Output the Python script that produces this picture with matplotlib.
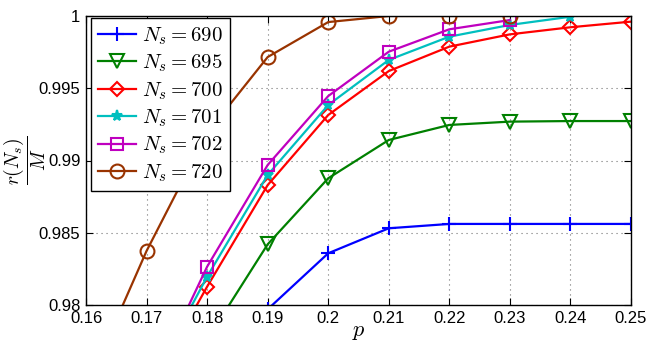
import numpy as np
import matplotlib
matplotlib.use('Agg')
import matplotlib.pyplot as plt

# ── Data ───────────────────────────────────────────────────────────────────────
p = [0.16, 0.17, 0.18, 0.19, 0.20, 0.21, 0.22, 0.23, 0.24, 0.25]

labels = [r'$N_s = 690$', r'$N_s = 695$', r'$N_s = 700$',
          r'$N_s = 701$', r'$N_s = 702$', r'$N_s = 720$']

r_690 = [0.9797, 0.98358, 0.98531, 0.98561, 0.98561, 0.98561, 0.98561]          # p = 0.19 .. 0.25
r_695 = [0.9776, 0.9842, 0.98877, 0.99142, 0.99246, 0.99269, 0.99273, 0.99273]  # p = 0.18 .. 0.25
r_700 = [0.9738, 0.98127, 0.98830, 0.99315, 0.99619, 0.99788, 0.99873, 0.99922, 0.99961]  # 0.17 ..
r_701 = [0.9741, 0.98196, 0.98900, 0.99384, 0.99696, 0.99857, 0.99938, 0.99995]            # 0.17 .. 0.24
r_702 = [0.9738, 0.98265, 0.98969, 0.99446, 0.99753, 0.99908, 0.99972]                     # 0.17 .. 0.23
r_720 = [0.9742, 0.98374, 0.9919, 0.99716, 0.99958, 1.0, 1.0, 1.0]                         # 0.16 .. 0.23

# (x, y, colour, marker, marker size)
series = [
    (p[3:], r_690, 'b', '+', 10),
    (p[2:], r_695, 'g', 'v', 10),
    (p[1:], r_700, 'r', 'D', 7.5),
    (p[1:9], r_701, 'c', '*', 8),
    (p[1:8], r_702, 'm', 's', 9),
    (p[0:8], r_720, (0.6, 0.2, 0.0), 'o', 10),
]

# ── Plot ───────────────────────────────────────────────────────────────────────
plt.rcParams['mathtext.fontset'] = 'cm'
plt.rcParams['font.family'] = ['Liberation Sans', 'DejaVu Sans']

fig = plt.figure(figsize=(6.47, 3.43), dpi=100)
ax = fig.add_axes([86 / 647, 1 - 305 / 343, 545 / 647, 289 / 343])

for (x, y, c, m, ms), lab in zip(series, labels):
    ax.plot(x, y, color=c, marker=m, markersize=ms,
            markerfacecolor='none' if m not in '+*' else c,
            markeredgewidth=1.5, linewidth=1.6, label=lab)

ax.set_xlim(0.16, 0.25)
ax.set_ylim(0.98, 1.0)
ax.set_xticks(p)
ax.set_xticklabels(['0.16', '0.17', '0.18', '0.19', '0.2', '0.21',
                    '0.22', '0.23', '0.24', '0.25'])
ax.set_yticks([0.98, 0.985, 0.99, 0.995, 1.0])
ax.set_yticklabels(['0.98', '0.985', '0.99', '0.995', '1'])
ax.tick_params(direction='in', top=True, right=True, length=5,
               labelsize=12, pad=4, width=0.8)
ax.grid(True, color='0.45', linestyle=(0, (1, 3.5)), linewidth=0.8)
for s in ax.spines.values():
    s.set_linewidth(1.0)

ax.set_xlabel(r'$p$', fontsize=16, labelpad=-3)
ax.set_ylabel(r'$\dfrac{r(N_s)}{M}$', fontsize=14, va='center')
ax.yaxis.set_label_coords(-61 / 545, 0.5)

leg = ax.legend(loc='upper left', bbox_to_anchor=(0.009, 0.993), fontsize=15,
                handlelength=1.8, handletextpad=0.3, labelspacing=0.28,
                borderpad=0.35, borderaxespad=0, fancybox=False,
                framealpha=1, edgecolor='k')
leg.get_frame().set_linewidth(1.0)

plt.savefig('out.png', dpi=100)
